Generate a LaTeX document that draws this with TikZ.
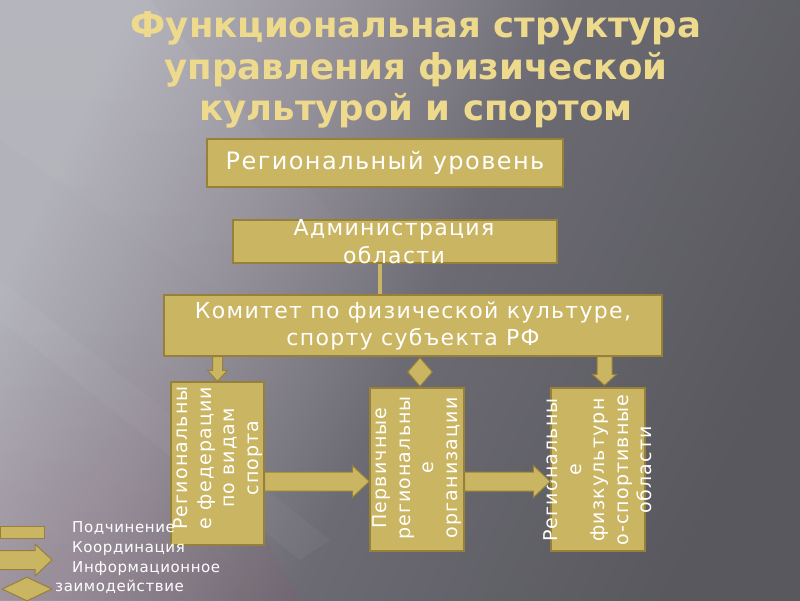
\documentclass[tikz,border=0pt]{standalone}
\usepackage{fontspec}
\setmainfont{DejaVu Sans}
\newfontfamily\spacedfont[LetterSpace=6]{DejaVu Sans}
\newfontfamily\legfont[LetterSpace=4]{DejaVu Sans}
\usetikzlibrary{calc,shapes.geometric,fadings}
\definecolor{bgA}{RGB}{178,178,186}
\definecolor{bgB}{RGB}{150,146,156}
\definecolor{bgC}{RGB}{108,107,115}
\definecolor{bgD}{RGB}{88,88,94}
\definecolor{boxfill}{RGB}{202,181,98}
\definecolor{boxedge}{RGB}{150,128,58}
\definecolor{titlecol}{RGB}{238,218,140}
\pgfdeclarehorizontalshading{bgsh}{100bp}{color(0bp)=(bgA); color(25bp)=(bgA); color(38bp)=(bgB); color(52bp)=(bgC); color(75bp)=(bgD); color(100bp)=(bgD)}
\newcommand\myharrow[2]{%
  \draw[blk] ($(#1)+(0,-9.5)$) -- ($(#2)+(-17,-9.5)$) -- ($(#2)+(-17,-16)$) -- (#2)
    -- ($(#2)+(-17,16)$) -- ($(#2)+(-17,9.5)$) -- ($(#1)+(0,9.5)$) -- cycle;}
% start, end, half shaft, half head, head length
\newcommand\mydarrow[5]{%
  \draw[blk] ($(#1)+(-#3,0)$) -- ($(#2)+(-#3,-#5)$) -- ($(#2)+(-#4,-#5)$) -- (#2)
    -- ($(#2)+(#4,-#5)$) -- ($(#2)+(#3,-#5)$) -- ($(#1)+(#3,0)$) -- cycle;}
\begin{document}
\begin{tikzpicture}[x=1pt,y=-1pt,
  box/.style={draw=boxedge, fill=boxfill, line width=1.3pt, inner sep=0pt, text=white, align=center},
  lbl/.style={text=white, align=center, inner sep=0pt},
  vtext/.style={text=white, align=center, inner sep=0pt, rotate=90, font=\spacedfont\fontsize{19}{23.5}\selectfont},
  blk/.style={draw=boxedge, fill=boxfill, line width=1pt, line join=miter},
  conn/.style={draw=boxfill, line width=4pt},
  legtext/.style={text=white, anchor=west, inner sep=0pt, font=\legfont\fontsize{15}{18}\selectfont},
  titletext/.style={align=center, inner sep=0pt, font=\fontsize{35.5}{41.5}\selectfont\bfseries}]
\useasboundingbox (0,0) rectangle (800,600);
% background
\shade[shading=bgsh, shading angle=-25] (0,0) rectangle (800,600);
\fill[white, opacity=0.05, path fading=south] (0,0) -- (150,0) -- (430,330) -- (330,370) -- (0,140) -- cycle;
\fill[white, opacity=0.035] (0,280) -- (0,320) -- (300,560) -- (330,540) -- cycle;
\fill[purple!40!gray, opacity=0.10, path fading=north] (0,330) -- (150,330) -- (300,600) -- (0,600) -- cycle;
% title
\node[titletext, text=titlecol] (title) at (416,70) {Функциональная структура\\управления физической\\культурой и спортом};
% boxes
\node[box, minimum width=356, minimum height=48, font=\spacedfont\fontsize{24}{28}\selectfont] (b1) at (385,163) {Региональный уровень};
\node[box, minimum width=324, minimum height=43] (b2) at (395,241.5) {};
\node[lbl, font=\spacedfont\fontsize{22}{28}\selectfont] (b2t) at (394,242) {Администрация\\области};
\node[box, minimum width=498, minimum height=61, font=\spacedfont\fontsize{22}{27}\selectfont] (b3) at (413,325.5) {Комитет по физической культуре,\\спорту субъекта РФ};
\node[box, minimum width=93, minimum height=163] (b4) at (217.5,463.5) {};
\node[box, minimum width=94, minimum height=163] (b5) at (417,469.5) {};
\node[box, minimum width=94, minimum height=163] (b6) at (598,469.5) {};
\node[vtext] (b4t) at (218,458) {Региональны\\е федерации\\по видам\\спорта};
\node[vtext] (b5t) at (417,468) {Первичные\\региональны\\е\\организации};
\node[vtext] (b6t) at (598,470) {Региональны\\е\\физкультурн\\о-спортивные\\области};
% connectors
\coordinate (c1) at ($(b2.south)+(-15,0)$);
\draw[conn] (c1) -- (c1 |- b3.north);
\coordinate (aAs) at (b4.north |- b3.south);
\mydarrow{aAs}{b4.north}{5}{10}{11}
\coordinate (aCe) at ($(b6.north)+(6.5,-2)$);
\coordinate (aCs) at (aCe |- b3.south);
\mydarrow{aCs}{aCe}{7.5}{12}{11}
\node[draw=boxedge, fill=boxfill, line width=1pt, diamond, minimum width=25, minimum height=29, inner sep=0pt] (dm) at ($(b3.south)!0.5!(b3.south |- b5.north)+(7,0)$) {};
\coordinate (h1s) at ($(b4.east)+(0,18)$);
\coordinate (h1e) at (h1s -| b5.west);
\coordinate (h2s) at (h1s -| b5.east);
\coordinate (h2e) at (h1s -| b6.west);
\myharrow{h1s}{h1e}
\myharrow{h2s}{h2e}
% legend
\node[draw=boxedge, fill=boxfill, line width=1pt, minimum width=44, minimum height=12, inner sep=0pt] (lg1) at (22,532) {};
\coordinate (lg2s) at (-2,560);
\coordinate (lg2e) at (52,560);
\myharrow{lg2s}{lg2e}
\node[draw=boxedge, fill=boxfill, line width=1pt, diamond, minimum width=50, minimum height=24, inner sep=0pt] (lg3) at (27,589) {};
\node[legtext] (lt1) at (72,528) {Подчинение};
\node[legtext] (lt2) at (72,549) {Координация};
\node[legtext] (lt3) at (72,569) {Информационное};
\node[legtext] (lt4) at (55,587) {заимодействие};
\end{tikzpicture}
\end{document}
